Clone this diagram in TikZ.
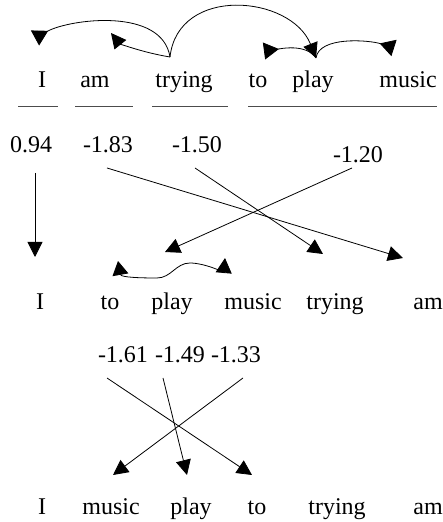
\documentclass[tikz,border=0pt]{standalone}
\usepackage{fontspec}
\setmainfont{Liberation Serif}
\usetikzlibrary{arrows.meta}

\begin{document}
\begin{tikzpicture}[
    x=1pt, y=1pt,
    word/.style={inner sep=0pt, anchor=base, font=\fontsize{24}{28}\selectfont},
    arrow/.style={-{Triangle[length=15pt,width=15pt]}, line width=0.8pt},
    backarrow/.style={-{Triangle[length=15pt,width=17pt,reversed]}, line width=0.8pt},
    biarrow/.style={{Triangle[length=14pt,width=16pt]}-{Triangle[length=15pt,width=16pt]}, line width=0.8pt},
    uline/.style={line width=1pt, black!70}
]
\useasboundingbox (0,0) rectangle (443,522);

% Original sentence
\node[word] (I1) at (42,434) {I};
\node[word] (am1) at (95,434) {am};
\node[word] (trying1) at (184,434) {trying};
\node[word] (to1) at (258,434) {to};
\node[word] (play1) at (313,434) {play};
\node[word] (music1) at (408,434) {music};

\draw[uline] (18,415) -- (58,415);
\draw[uline] (75,415) -- (133,415);
\draw[uline] (152,415) -- (228,415);
\draw[uline] (248,415) -- (437,415);

% Scores, first step
\node[word] (s094) at (31,369) {0.94};
\node[word] (s183) at (108,369) {-1.83};
\node[word] (s150) at (197,369) {-1.50};
\node[word] (s120) at (358,359) {-1.20};

% First reordering
\node[word] (I2) at (40,212) {I};
\node[word] (to2) at (110,212) {to};
\node[word] (play2) at (172,212) {play};
\node[word] (music2) at (253,212) {music};
\node[word] (trying2) at (335,212) {trying};
\node[word] (am2) at (428,212) {am};

% Scores, second step
\node[word] (s161) at (123,159) {-1.61};
\node[word] (s149) at (180,159) {-1.49};
\node[word] (s133) at (236,159) {-1.33};

% Final reordering
\node[word] (I3) at (42,7) {I};
\node[word] (music3) at (111,7) {music};
\node[word] (play3) at (191,7) {play};
\node[word] (to3) at (257,7) {to};
\node[word] (trying3) at (337,7) {trying};
\node[word] (am3) at (428,7) {am};

% Dependency tree
\coordinate (rootT) at ([shift={(-14,31)}]trying1.base);
\coordinate (rootP) at ([shift={(3,30)}]play1.base);
\coordinate (headI) at ([shift={(-7,50)}]I1.base);
\coordinate (headAm) at ([shift={(16,55)}]am1.base);
\coordinate (headTo) at ([shift={(6,37)}]to1.base);
\coordinate (headMusic) at ([shift={(-14,40)}]music1.base);

\draw[backarrow] (rootT) .. controls +(-8,50) and +(35,19) .. (headI);
\draw[arrow] (rootT) .. controls +(-30,5) and +(8,-10) .. (headAm);
\draw[arrow] (rootT) .. controls +(8,72) and +(-25,63) .. (rootP);
\draw[backarrow] (rootP) .. controls +(-10,15) and +(15,2) .. (headTo);
\draw[backarrow] (rootP) .. controls +(3,22) and +(-25,8) .. (headMusic);

% Moves, first step
\draw[arrow] ([shift={(4,-20)}]s094.base) -- ([shift={(-5,53)}]I2.base);
\draw[arrow] ([shift={(-1,-15)}]s183.base) -- ([shift={(-25,52)}]am2.base);
\draw[arrow] ([shift={(-2,-15)}]s150.base) -- ([shift={(-12,56)}]trying2.base);
\draw[arrow] ([shift={(-6,-5)}]s120.base) -- ([shift={(-7,58)}]play2.base);

\draw[biarrow] ([shift={(8,49)}]to2.base) to[out=-80,in=180] ++(39,-17)
    to[out=0,in=180] ++(33,15) to[out=0,in=-95] ([shift={(-28,52)}]music2.base);

% Moves, second step
\draw[arrow] ([shift={(-16,-15)}]s161.base) -- ([shift={(-5,40)}]to3.base);
\draw[arrow] ([shift={(-17,-15)}]s149.base) -- ([shift={(-4,40)}]play3.base);
\draw[arrow] ([shift={(7,-15)}]s133.base) -- ([shift={(2,40)}]music3.base);
\end{tikzpicture}
\end{document}
